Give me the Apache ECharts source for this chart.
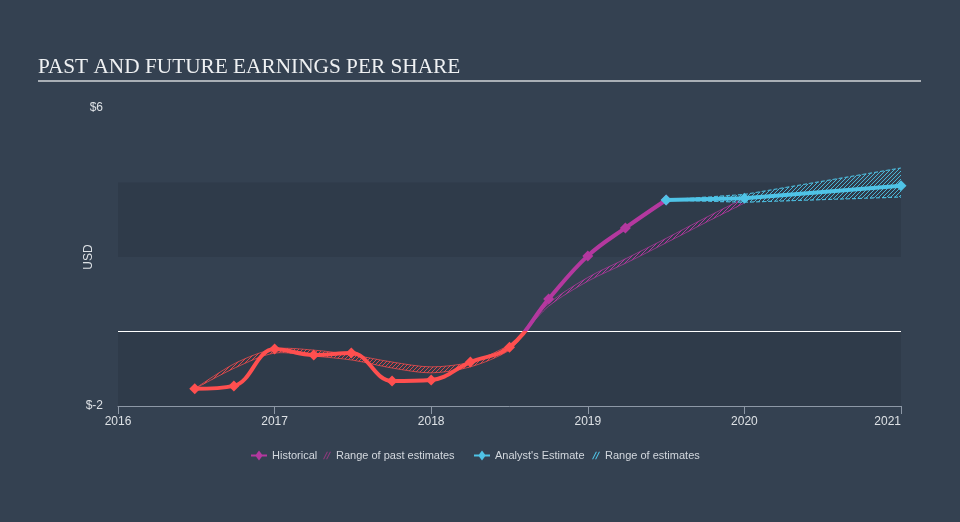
<!DOCTYPE html>
<html>
<head>
<meta charset="utf-8">
<script src="https://cdn.jsdelivr.net/npm/echarts@6/dist/echarts.min.js"></script>
<style>
html,body{margin:0;padding:0;background:#344151;}
#chart{width:960px;height:522px;}
</style>
</head>
<body>
<div id="chart"></div>
<script>
// ---- data ----
const histX = [2016.49, 2016.74, 2017.0, 2017.25, 2017.49, 2017.75, 2018.0, 2018.25, 2018.5, 2018.75, 2019.0, 2019.24, 2019.5];
const histEPS = [-1.54, -1.46, -0.47, -0.63, -0.58, -1.33, -1.30, -0.82, -0.42, 0.87, 2.03, 2.78, 3.53];

const pastNegX = [2016.49, 2016.75, 2017.0, 2017.25, 2017.5, 2017.75, 2018.0, 2018.25, 2018.5, 2018.6];
const pastNegLow = [-1.54, -0.97, -0.58, -0.66, -0.77, -0.98, -1.11, -0.95, -0.50, 0];
const pastNegHigh = [-1.54, -0.85, -0.47, -0.50, -0.63, -0.82, -0.95, -0.82, -0.36, 0];

const pastPosX = [2018.6, 2018.75, 2019.0, 2019.25, 2019.5, 2019.75, 2020.0];
const pastPosLow = [0, 0.68, 1.35, 1.85, 2.38, 2.92, 3.45];
const pastPosHigh = [0, 0.75, 1.45, 1.97, 2.50, 3.05, 3.58];

const estX = [2019.5, 2020.0, 2021.0];
const estEPS = [3.53, 3.58, 3.91];
const estLow = [3.53, 3.47, 3.61];
const estHigh = [3.53, 3.68, 4.39];

const yTickLabels = {'6': '$6', '-2': '$-2'};

// ---- styles ----
const RED = '#ff4f4f';
const PURPLE = '#b4389f';
const CYAN = '#4fc3e6';

function hatch(color) {
  const c = document.createElement('canvas');
  c.width = 4; c.height = 4;
  const g = c.getContext('2d');
  g.strokeStyle = color;
  g.lineWidth = 1;
  g.beginPath();
  g.moveTo(0, 4); g.lineTo(4, 0);
  g.moveTo(-1, 1); g.lineTo(1, -1);
  g.moveTo(3, 5); g.lineTo(5, 3);
  g.stroke();
  return c;
}
function pairs(xs, ys) { return xs.map((x, i) => [x, ys[i]]); }

// band drawn as one polygon between low and high, positioned through the axes (api.coord)
function bandSeries(name, xs, low, high, color, hatchColor, smooth, dashed) {
  const pattern = {image: hatch(hatchColor), repeat: 'repeat'};
  return {
    name: name, type: 'custom', silent: true, z: 2,
    data: xs.map((x, i) => [x, low[i], high[i]]),
    encode: {x: 0, y: [1, 2]},
    renderItem: function (params, api) {
      if (params.dataIndex !== 0) return null;
      const up = xs.map((x, i) => api.coord([x, high[i]]));
      const lo = xs.map((x, i) => api.coord([x, low[i]]));
      const edge = {stroke: color, lineWidth: dashed ? 1.2 : 0.8, fill: null, opacity: 0.9,
                    lineDash: dashed ? [4, 2] : null};
      return {
        type: 'group',
        children: [
          {type: 'polygon', shape: {points: up.concat(lo.slice().reverse()), smooth: smooth},
           style: {fill: pattern, stroke: null}},
          {type: 'polyline', shape: {points: up, smooth: smooth}, style: edge},
          {type: 'polyline', shape: {points: lo, smooth: smooth}, style: edge}
        ]
      };
    }
  };
}

const hatchIcon = 'path://M0,10 L5,0 L6.5,0 L1.5,10 Z M4,10 L9,0 L10.5,0 L5.5,10 Z';
const lineDiamondIcon = 'path://M0,4 L5,4 L8,0 L11,4 L16,4 L16,6 L11,6 L8,10 L5,6 L0,6 Z';
const legendText = {color: '#d3d8de', fontSize: 11, fontFamily: 'Liberation Sans, Arial, sans-serif'};

const series = [
  bandSeries('Range of past estimates', pastNegX, pastNegLow, pastNegHigh, RED, 'rgba(230,70,70,0.95)', 0.3, false),
  bandSeries('Range of past estimates', pastPosX, pastPosLow, pastPosHigh, PURPLE, 'rgba(180,56,159,0.95)', 0.3, false),
  bandSeries('Range of estimates', estX, estLow, estHigh, CYAN, 'rgba(79,195,230,0.9)', 0, true),
  {
    name: 'Historical', type: 'line', data: pairs(histX, histEPS), smooth: 0.4, z: 5,
    symbol: 'diamond', symbolSize: 11, showSymbol: true,
    lineStyle: {width: 4}, itemStyle: {color: PURPLE},
    markLine: {
      silent: true, symbol: 'none', label: {show: false}, z: 1,
      lineStyle: {color: '#ffffff', width: 1.2, type: 'solid'},
      data: [{yAxis: 0}]
    }
  },
  {
    name: "Analyst's Estimate", type: 'line', data: pairs(estX, estEPS), z: 6,
    symbol: 'diamond', symbolSize: 11,
    lineStyle: {width: 4, color: CYAN}, itemStyle: {color: CYAN}
  }
];
const histIndex = series.findIndex(s => s.name === 'Historical');

function legend(left, name, icon, w, color) {
  return {
    left: left, top: 450, itemWidth: w, itemHeight: 10, itemGap: 0, padding: 0,
    textStyle: legendText, selectedMode: false,
    data: [{name: name, icon: icon, itemStyle: {color: color}}]
  };
}

const option = {
  backgroundColor: '#344151',
  animation: false,
  title: {
    text: 'PAST AND FUTURE EARNINGS PER SHARE', left: 33, top: 52,
    textStyle: {color: '#eef0f2', fontSize: 21.3, fontWeight: 'normal', fontFamily: 'Liberation Serif, Times New Roman, serif'}
  },
  graphic: [{
    type: 'line', shape: {x1: 38, y1: 81, x2: 921, y2: 81},
    style: {stroke: '#a9afb6', lineWidth: 2}, silent: true
  }],
  grid: {left: 118, right: 59, top: 108, bottom: 116},
  legend: [
    legend(251, 'Historical', lineDiamondIcon, 16, PURPLE),
    legend(323, 'Range of past estimates', hatchIcon, 8, '#8f3a7e'),
    legend(474, "Analyst's Estimate", lineDiamondIcon, 16, CYAN),
    legend(592, 'Range of estimates', hatchIcon, 8, CYAN)
  ],
  visualMap: {
    type: 'piecewise', show: false, seriesIndex: histIndex, dimension: 1,
    pieces: [{gte: -10, lt: 0, color: RED}, {gte: 0, lte: 10, color: PURPLE}],
    outOfRange: {color: PURPLE}
  },
  xAxis: {
    type: 'value', min: 2016, max: 2021, interval: 1,
    axisLine: {show: true, onZero: false, lineStyle: {color: '#8d98a6', width: 1}},
    axisTick: {show: true, length: 8, lineStyle: {color: '#8d98a6'}},
    splitLine: {show: false},
    axisLabel: {color: '#dde1e5', fontSize: 12, margin: 10, alignMaxLabel: 'right',
      fontFamily: 'Liberation Sans, Arial, sans-serif', formatter: v => String(v)}
  },
  yAxis: {
    type: 'value', min: -2, max: 6, interval: 2,
    name: 'USD', nameLocation: 'middle', nameGap: 23, nameRotate: 90, nameMoveOverlap: false,
    nameTextStyle: {color: '#dde1e5', fontSize: 12, fontFamily: 'Liberation Sans, Arial, sans-serif'},
    axisLine: {show: false}, axisTick: {show: false},
    splitLine: {show: false},
    splitArea: {show: true, areaStyle: {color: ['#2f3b4a', 'rgba(0,0,0,0)']}},
    axisLabel: {color: '#dde1e5', fontSize: 12, margin: 15,
      fontFamily: 'Liberation Sans, Arial, sans-serif',
      formatter: v => yTickLabels[String(v)] || ''}
  },
  series: series
};

const chart = echarts.init(document.getElementById('chart'), null, {renderer: 'canvas'});
chart.setOption(option);
</script>
</body>
</html>
